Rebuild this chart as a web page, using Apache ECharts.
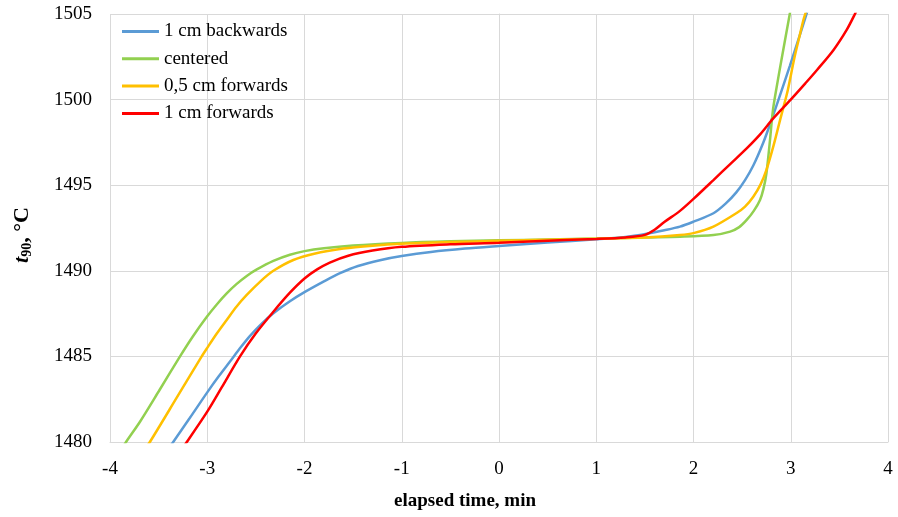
<!DOCTYPE html>
<html>
<head>
<meta charset="utf-8">
<script src="https://cdn.jsdelivr.net/npm/echarts@6/dist/echarts.min.js"></script>
<style>
  html, body { margin: 0; padding: 0; background: #fff; }
  #chart { width: 898px; height: 517px; }
</style>
</head>
<body>
<div id="chart"></div>
<script>
// Axis ranges and tick values
const xTicks = [-4, -3, -2, -1, 0, 1, 2, 3, 4];
const yTicks = [1480, 1485, 1490, 1495, 1500, 1505];

const seriesNames = ['1 cm backwards', 'centered', '0,5 cm forwards', '1 cm forwards'];

// 1 cm backwards: elapsed time (min) and temperature t90 (°C)
const backX = [-3.4, -3.35, -3.18, -3.0, -2.88, -2.766, -2.66, -2.56, -2.44, -2.32, -2.15, -2.0, -1.8, -1.635, -1.45, -1.224, -1.0, -0.7, -0.35, 0, 0.5, 1.0, 1.3, 1.52, 1.7, 1.861, 2.0, 2.205, 2.33, 2.44, 2.53, 2.615, 2.717, 2.80, 2.89, 2.99, 3.095, 3.157, 3.2];
const backY = [1479.6, 1480, 1481.4, 1482.9, 1483.85, 1484.7, 1485.5, 1486.2, 1486.92, 1487.52, 1488.22, 1488.75, 1489.38, 1489.86, 1490.28, 1490.62, 1490.86, 1491.1, 1491.3, 1491.45, 1491.65, 1491.84, 1491.98, 1492.17, 1492.37, 1492.58, 1492.87, 1493.36, 1493.92, 1494.58, 1495.3, 1496.15, 1497.48, 1498.77, 1500.26, 1501.96, 1503.8, 1504.9, 1505.7];

// centered
const centX = [-3.9, -3.835, -3.69, -3.5, -3.28, -3.15, -3.006, -2.9, -2.8, -2.7, -2.594, -2.49, -2.32, -2.15, -2.0, -1.8, -1.5, -1.0, -0.5, 0, 0.5, 1.0, 1.5, 1.861, 2.205, 2.377, 2.47, 2.547, 2.62, 2.684, 2.72, 2.75, 2.786, 2.815, 2.845, 2.907, 2.99, 3.02];
const centY = [1479.4, 1480, 1481.2, 1482.95, 1485, 1486.15, 1487.3, 1488.05, 1488.68, 1489.22, 1489.7, 1490.08, 1490.58, 1490.94, 1491.15, 1491.32, 1491.48, 1491.63, 1491.72, 1491.78, 1491.83, 1491.88, 1491.95, 1491.99, 1492.09, 1492.29, 1492.55, 1492.97, 1493.5, 1494.14, 1494.8, 1495.7, 1497.6, 1499.3, 1500.4, 1502.4, 1505, 1505.9];

// 0,5 cm forwards
const halfX = [-3.65, -3.59, -3.3, -3.057, -3.0, -2.9, -2.8, -2.7, -2.594, -2.45, -2.32, -2.115, -1.9, -1.6, -1.3, -1.0, -0.5, 0, 0.5, 1.0, 1.5, 1.861, 2.0, 2.205, 2.44, 2.53, 2.615, 2.69, 2.75, 2.82, 2.89, 2.94, 2.97, 3.04, 3.09, 3.13, 3.16, 3.19];
const halfY = [1479.55, 1480, 1482.72, 1485, 1485.5, 1486.35, 1487.13, 1487.9, 1488.59, 1489.4, 1490.0, 1490.63, 1491.0, 1491.3, 1491.47, 1491.58, 1491.68, 1491.75, 1491.81, 1491.87, 1491.95, 1492.09, 1492.2, 1492.58, 1493.36, 1493.75, 1494.33, 1495.05, 1495.89, 1497.25, 1498.8, 1499.88, 1500.56, 1502.5, 1503.7, 1504.65, 1505.2, 1505.8];

// 1 cm forwards
const fwdX = [-3.25, -3.21, -3.0, -2.85, -2.663, -2.5, -2.32, -2.15, -2.0, -1.87, -1.74, -1.55, -1.3, -1.0, -0.5, 0, 0.5, 1.0, 1.3, 1.5, 1.6, 1.7, 1.861, 2.0, 2.205, 2.38, 2.547, 2.69, 2.82, 3.0, 3.15, 3.27, 3.44, 3.575, 3.66, 3.7];
const fwdY = [1479.7, 1480, 1481.77, 1483.2, 1485, 1486.35, 1487.61, 1488.72, 1489.55, 1490.08, 1490.48, 1490.88, 1491.18, 1491.4, 1491.55, 1491.64, 1491.76, 1491.86, 1491.95, 1492.1, 1492.4, 1492.85, 1493.5, 1494.2, 1495.3, 1496.25, 1497.15, 1498.0, 1498.9, 1500.0, 1500.95, 1501.73, 1502.9, 1504.07, 1505, 1505.5];

const colors = ['#5B9BD5', '#92D050', '#FFC000', '#FF0000'];
const xs = [backX, centX, halfX, fwdX];
const ys = [backY, centY, halfY, fwdY];

const serif = '"Liberation Serif", "Times New Roman", serif';

const chart = echarts.init(document.getElementById('chart'), null, { renderer: 'canvas' });

chart.setOption({
  animation: false,
  backgroundColor: '#ffffff',
  grid: { left: 110, top: 14, right: 10, bottom: 75, containLabel: false },
  legend: {
    data: seriesNames,
    orient: 'vertical',
    left: 122,
    top: 22,
    padding: 0,
    icon: 'rect',
    itemWidth: 37,
    itemHeight: 3,
    itemGap: 8.3,
    textStyle: { fontFamily: serif, fontSize: 19, color: '#000', lineHeight: 19 }
  },
  xAxis: {
    type: 'value',
    min: xTicks[0],
    max: xTicks[xTicks.length - 1],
    interval: 1,
    name: 'elapsed time, min',
    nameLocation: 'middle',
    nameGap: 50,
    nameTextStyle: { fontFamily: serif, fontSize: 19, fontWeight: 'bold', color: '#000', padding: [0, 68, 0, 0] },
    axisLine: { show: true, lineStyle: { color: '#d9d9d9', width: 1 } },
    axisTick: { show: false },
    axisLabel: { fontFamily: serif, fontSize: 19, color: '#000', margin: 18 },
    splitLine: { show: true, lineStyle: { color: '#d9d9d9', width: 1 } }
  },
  yAxis: {
    type: 'value',
    min: yTicks[0],
    max: yTicks[yTicks.length - 1],
    interval: 5,
    name: '{i|t}{s|90}{b|, °C}',
    nameLocation: 'middle',
    nameGap: 76,
    nameRotate: 90,
    nameTextStyle: {
      color: '#000',
      padding: [0, 14, 0, 0],
      rich: {
        i: { fontFamily: serif, fontSize: 22, fontWeight: 'bold', fontStyle: 'italic', color: '#000' },
        s: { fontFamily: serif, fontSize: 14, fontWeight: 'bold', color: '#000', verticalAlign: 'bottom', padding: [9, 0, 0, 0] },
        b: { fontFamily: serif, fontSize: 22, fontWeight: 'bold', color: '#000' }
      }
    },
    axisLine: { show: true, lineStyle: { color: '#d9d9d9', width: 1 } },
    axisTick: { show: false },
    axisLabel: { fontFamily: serif, fontSize: 19, color: '#000', margin: 18, formatter: v => String(v) },
    splitLine: { show: true, lineStyle: { color: '#d9d9d9', width: 1 } }
  },
  series: seriesNames.map((name, k) => ({
    name: name,
    type: 'line',
    data: xs[k].map((x, i) => [x, ys[k][i]]),
    smooth: 0.3,
    symbol: 'none',
    clip: true,
    color: colors[k],
    lineStyle: { color: colors[k], width: 2.5 }
  }))
});
</script>
</body>
</html>
